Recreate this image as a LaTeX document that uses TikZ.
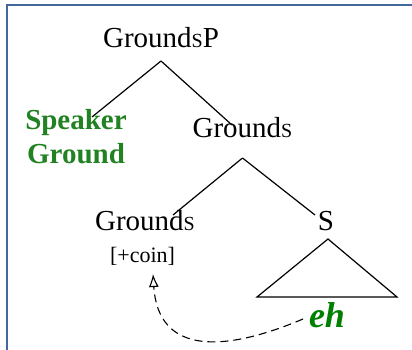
\documentclass[tikz,border=0pt]{standalone}
\usepackage{fontspec}
\setmainfont{Liberation Serif}
\usetikzlibrary{arrows.meta}

\definecolor{rahmen}{RGB}{68,104,156}
\definecolor{gruen}{RGB}{34,130,34}
\definecolor{ehgruen}{RGB}{0,128,0}

% kleines Kapitaelchen-S
\newcommand{\kS}{{\fontsize{20}{20}\selectfont S}}

\tikzset{
	kat/.style={font=\fontsize{29}{34}\selectfont, inner sep=0pt, anchor=base},
	merkmal/.style={font=\fontsize{22}{24}\selectfont, inner sep=0pt, anchor=base},
	sprecher/.style={font=\fontsize{29}{34}\selectfont\bfseries, text=gruen, align=center, inner sep=0pt, anchor=base},
	partikel/.style={font=\fontsize{36}{38}\selectfont\bfseries\itshape, text=ehgruen, inner sep=0pt, anchor=base},
	ast/.style={line width=1.2pt},
	spitze/.tip={Latex[open,length=13pt,width=10pt]}
}

\begin{document}
\begin{tikzpicture}[x=1pt,y=-1pt]
		\useasboundingbox (0,0) rectangle (412,350);
		
		% zeichne Rahmen
		\draw[rahmen, line width=2pt] (7,350) -- (7,5) -- (412,5);
		
		% zeichne Knoten
		\node[kat] (gsp) at (161,48) {Ground\kS P};
		\node[sprecher] (spk) at (76,163) {Speaker\\Ground};
		\node[kat] (gsm) at (242.5,138) {Ground\kS};
		\node[kat] (gsl) at (145,230) {Ground\kS};
		\node[merkmal] (coin) at (142.5,262) {[+coin]};
		\node[kat] (s) at (326,230) {S};
		\node[partikel] (eh) at (327,327) {eh};
		
		% zeichne Aeste
		\draw[ast] ([yshift=-13pt]gsp.base) -- ([shift={(16pt,46pt)}]spk.base);
		\draw[ast] ([yshift=-13pt]gsp.base) -- ([shift={(-10.5pt,13pt)}]gsm.base);
		\draw[ast] ([yshift=-20pt]gsm.base) -- ([shift={(28pt,15pt)}]gsl.base);
		\draw[ast] ([yshift=-20pt]gsm.base) -- ([shift={(-11pt,15pt)}]s.base);
		
		% Dreieck unter S
		\draw[ast] ([shift={(2pt,-9pt)}]s.base) -- ++(-71,58) -- ++(140,0) -- cycle;
		
		% gestrichelter Pfeil von eh nach [+coin], Spitze durchgezogen
		\coordinate (ziel) at ([shift={(10.5pt,-12pt)}]coin.base);
		\draw[line width=1.1pt, dash pattern=on 8pt off 5pt, shorten >=12pt]
			([shift={(-24pt,8pt)}]eh.base) .. controls (225,352) and (158,356) .. (ziel);
		\draw[line width=1.1pt, -spitze] ([shift={(0.9pt,-14pt)}]ziel) -- (ziel);
\end{tikzpicture}
\end{document}
